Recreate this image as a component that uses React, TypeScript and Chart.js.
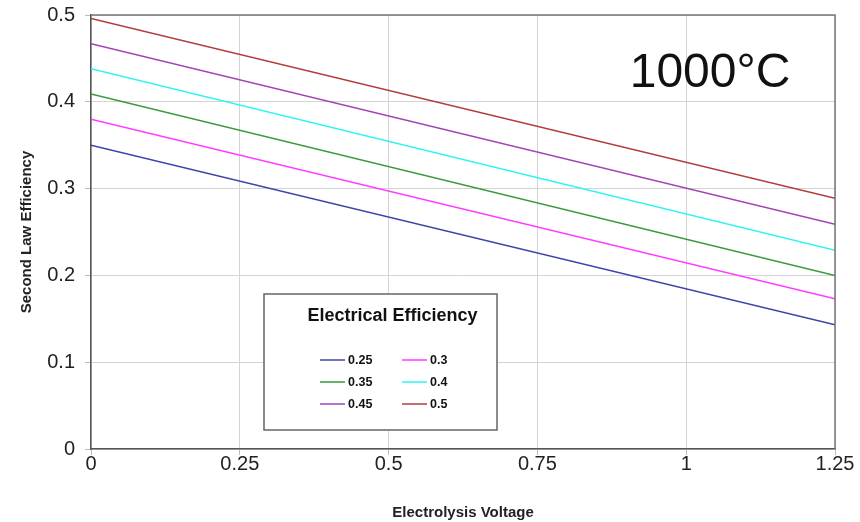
import React, { useEffect, useRef } from "react";
import { Chart, registerables } from "chart.js";

Chart.register(...registerables);

const voltages = [0, 1.25];
const seriesLabels = ["0.25", "0.3", "0.35", "0.4", "0.45", "0.5"];
const eff025 = [0.350, 0.143];
const eff030 = [0.380, 0.173];
const eff035 = [0.409, 0.200];
const eff040 = [0.438, 0.229];
const eff045 = [0.467, 0.259];
const eff050 = [0.496, 0.289];
const seriesValues = [eff025, eff030, eff035, eff040, eff045, eff050];
const seriesColors = ["#3c44a6", "#ff3cff", "#3a9a3a", "#30f4f4", "#a243b4", "#b23c3c"];
const xTicks = [0, 0.25, 0.5, 0.75, 1, 1.25];
const yTicks = [0, 0.1, 0.2, 0.3, 0.4, 0.5];
const legendTitle = "Electrical Efficiency";
const annotationText = "1000°C";

const FONT = "'Liberation Sans', Arial, sans-serif";

const overlayPlugin = {
  id: "overlay",
  afterDatasetsDraw(chart: any) {
    const ctx = chart.ctx as CanvasRenderingContext2D;
    const area = chart.chartArea;
    ctx.save();
    // Annotation text
    ctx.fillStyle = "#111";
    ctx.font = `48px ${FONT}`;
    ctx.textAlign = "center";
    ctx.textBaseline = "alphabetic";
    ctx.fillText(annotationText, area.left + 619, area.top + 72);

    // Legend box
    const bx = area.left + 173;
    const by = area.top + 279;
    const bw = 233;
    const bh = 136;
    ctx.fillStyle = "#fff";
    ctx.fillRect(bx, by, bw, bh);
    ctx.strokeStyle = "#666";
    ctx.lineWidth = 1.5;
    ctx.strokeRect(bx, by, bw, bh);

    ctx.fillStyle = "#111";
    ctx.font = `bold 18px ${FONT}`;
    ctx.textAlign = "center";
    ctx.textBaseline = "middle";
    ctx.fillText(legendTitle, bx + bw / 2 + 12, by + 22);

    ctx.font = `bold 12.5px ${FONT}`;
    ctx.textAlign = "left";
    chart.data.datasets.forEach((ds: any, i: number) => {
      const col = i % 2;
      const row = Math.floor(i / 2);
      const lx = bx + 56 + col * 82;
      const ly = by + 66 + row * 22;
      ctx.strokeStyle = ds.borderColor;
      ctx.lineWidth = 1.5;
      ctx.beginPath();
      ctx.moveTo(lx, ly);
      ctx.lineTo(lx + 25, ly);
      ctx.stroke();
      ctx.fillStyle = "#111";
      ctx.fillText(ds.label, lx + 28, ly + 1);
    });
    ctx.restore();
  },
};

export default function App() {
  const ref = useRef<HTMLCanvasElement | null>(null);
  useEffect(() => {
    if (!ref.current) return;
    const chart = new Chart(ref.current, {
      type: "line",
      data: {
        datasets: seriesValues.map((vals, i) => ({
          label: seriesLabels[i],
          data: vals.map((v, j) => ({ x: voltages[j], y: v })),
          borderColor: seriesColors[i],
          backgroundColor: seriesColors[i],
          borderWidth: 1.5,
          pointRadius: 0,
          tension: 0,
          fill: false,
        })),
      },
      options: {
        animation: false,
        responsive: false,
        maintainAspectRatio: false,
        layout: { padding: { left: 12, top: 15, right: 25, bottom: 0 } },
        plugins: {
          legend: { display: false },
          tooltip: { enabled: false },
          title: { display: false },
        },
        scales: {
          x: {
            type: "linear",
            min: 0,
            max: 1.25,
            afterBuildTicks: (scale: any) => {
              scale.ticks = xTicks.map((v) => ({ value: v }));
            },
            afterFit: (scale: any) => {
              scale.height = 73;
            },
            ticks: {
              color: "#222",
              font: { family: FONT, size: 20 },
              padding: -3,
              maxRotation: 0,
              autoSkip: false,
              callback: (v: any) => String(v),
            },
            grid: { color: "#d4d4d4", lineWidth: 1, tickLength: 6, tickColor: "#bbb" },
            border: { color: "#555", width: 1.5 },
            title: {
              display: true,
              text: "Electrolysis Voltage",
              color: "#222",
              font: { family: FONT, size: 15, weight: "bold" },
              padding: { top: 0, bottom: 0 },
            },
          },
          y: {
            type: "linear",
            min: 0,
            max: 0.5,
            afterBuildTicks: (scale: any) => {
              scale.ticks = yTicks.map((v) => ({ value: v }));
            },
            afterFit: (scale: any) => {
              scale.width = 79;
              scale.paddingTop = 0;
              scale.paddingBottom = 0;
            },
            ticks: {
              color: "#222",
              font: { family: FONT, size: 20 },
              padding: 10,
              callback: (v: any) => String(v),
            },
            grid: { color: "#d4d4d4", lineWidth: 1, tickLength: 6, tickColor: "#bbb" },
            border: { color: "#555", width: 1.5 },
            title: {
              display: true,
              text: "Second Law Efficiency",
              color: "#222",
              font: { family: FONT, size: 15, weight: "bold" },
              padding: { top: 6, bottom: 0 },
            },
          },
        },
      },
      plugins: [
        overlayPlugin,
        {
          id: "rightTopBorder",
          afterDraw(chart: any) {
            const ctx = chart.ctx;
            const a = chart.chartArea;
            ctx.save();
            ctx.strokeStyle = "#777";
            ctx.lineWidth = 1.5;
            ctx.beginPath();
            ctx.moveTo(a.left, a.top);
            ctx.lineTo(a.right, a.top);
            ctx.lineTo(a.right, a.bottom);
            ctx.stroke();
            ctx.restore();
          },
        },
      ],
    } as any);
    return () => chart.destroy();
  }, []);
  return (
    <div style={{ position: "fixed", left: 0, top: 0, width: 860, height: 522, background: "#fff" }}>
      <canvas ref={ref} width={860} height={522} style={{ width: 860, height: 522, display: "block" }} />
    </div>
  );
}
